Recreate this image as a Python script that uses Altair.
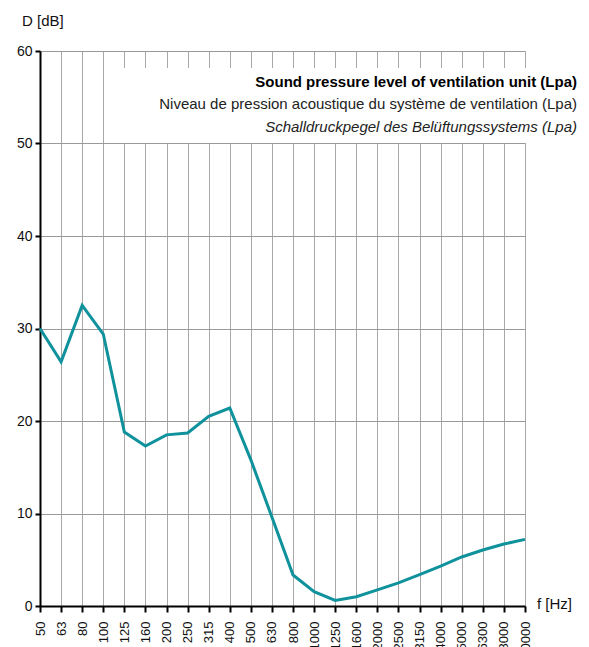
import altair as alt
import pandas as pd

freqs = ["50", "63", "80", "100", "125", "160", "200", "250", "315", "400", "500", "630",
         "800", "1000", "1250", "1600", "2000", "2500", "3150", "4000", "5000", "6300", "8000", "10000"]
levels = [30.0, 26.4, 32.5, 29.4, 18.8, 17.3, 18.5, 18.7, 20.5, 21.4, 15.8, 9.6,
          3.35, 1.55, 0.6, 1.0, 1.75, 2.5, 3.4, 4.3, 5.3, 6.05, 6.7, 7.2]
legend_lines = ["Sound pressure level of ventilation unit (Lpa)",
                "Niveau de pression acoustique du système de ventilation (Lpa)",
                "Schalldruckpegel des Belüftungssystems (Lpa)"]

df = pd.DataFrame({"f": freqs, "D": levels})
W, H = 485, 555
FONT = "Liberation Sans"

x_enc = alt.X("f:O", sort=freqs, scale=alt.Scale(type="point", padding=0),
              axis=alt.Axis(title=None, labelAngle=270, labelFontSize=13, labelFont=FONT,
                            labelColor="#111", grid=True, gridColor="#a8a8a8", gridWidth=1,
                            domainColor="#000", domainWidth=2, tickColor="#000", tickWidth=2,
                            tickSize=6, labelPadding=9))
y_enc = alt.Y("D:Q", scale=alt.Scale(domain=[0, 60], nice=False),
              axis=alt.Axis(title=None, values=[0, 10, 20, 30, 40, 50, 60], labelFontSize=14,
                            labelFont=FONT, labelColor="#111", grid=True, gridColor="#999999",
                            gridWidth=1, domainColor="#000", domainWidth=2, tickColor="#000",
                            tickWidth=2, tickSize=5, labelPadding=3))

line = alt.Chart(df).mark_line(color="#0f929c", strokeWidth=3).encode(x=x_enc, y=y_enc)

box = alt.Chart(df).mark_rect(color="white").encode(
    x=alt.value(75), x2=alt.value(548), y=alt.value(17), y2=alt.value(92))

leg_df = pd.DataFrame({"t": legend_lines, "i": [0, 1, 2]})
t1 = alt.Chart(leg_df.iloc[[0]]).mark_text(align="right", baseline="middle", fontSize=15,
                                           font=FONT, fontWeight="bold", color="#000").encode(
    text="t:N", x=alt.value(537), y=alt.value(31))
t2 = alt.Chart(leg_df.iloc[[1]]).mark_text(align="right", baseline="middle", fontSize=15,
                                           font=FONT, color="#222").encode(
    text="t:N", x=alt.value(537), y=alt.value(53))
t3 = alt.Chart(leg_df.iloc[[2]]).mark_text(align="right", baseline="middle", fontSize=15,
                                           font=FONT, fontStyle="italic", color="#222").encode(
    text="t:N", x=alt.value(537), y=alt.value(76))

lab_df = pd.DataFrame({"t": ["D [dB]", "f [Hz]"]})
ylab = alt.Chart(lab_df.iloc[[0]]).mark_text(align="left", baseline="middle", fontSize=15,
                                             font=FONT, color="#111").encode(
    text="t:N", x=alt.value(-18), y=alt.value(-30))
xlab = alt.Chart(lab_df.iloc[[1]]).mark_text(align="left", baseline="middle", fontSize=15,
                                             font=FONT, color="#111").encode(
    text="t:N", x=alt.value(497), y=alt.value(553))

chart = alt.layer(box, line, t1, t2, t3, ylab, xlab).properties(
    width=W, height=H,
    autosize=alt.AutoSizeParams(type="none"),
    padding={"left": 32, "top": 43, "right": 56, "bottom": 60},
).configure_view(stroke=None).configure(background="white")

chart.save("out.html", embed_options={"renderer": "svg", "actions": False})
